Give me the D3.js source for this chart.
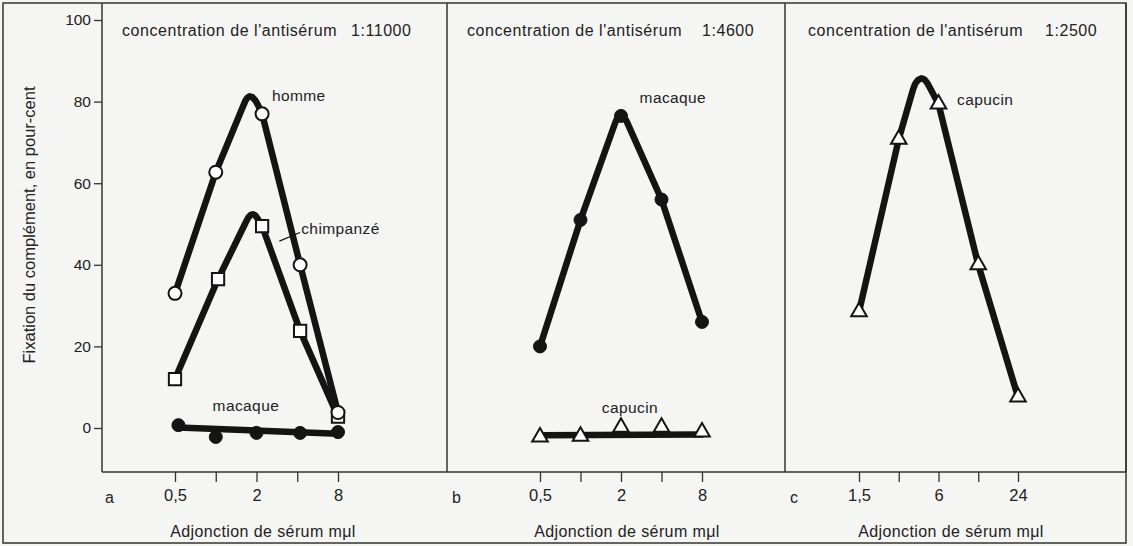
<!DOCTYPE html>
<html>
<head>
<meta charset="utf-8">
<script src="https://cdn.jsdelivr.net/npm/d3@7"></script>
<style>
  html, body { margin: 0; padding: 0; background: #f5f5f3; }
  svg { display: block; }
  text { font-family: "Liberation Sans", Arial, Helvetica, sans-serif; fill: #222; }
</style>
</head>
<body>
<svg id="chart" width="1133" height="546"></svg>
<script>
// ---------- data ----------
const yTicks = [0, 20, 40, 60, 80, 100];
const xTicksAB = [0.5, 1, 2, 4, 8];
const xTickLabelsAB = ["0,5", "", "2", "", "8"];
const xTicksC = [1.5, 3, 6, 12, 24];
const xTickLabelsC = ["1,5", "", "6", "", "24"];
const panelLetters = ["a", "b", "c"];
const concentrations = ["1:11000", "1:4600", "1:2500"];

// panel a : 1:11000
const hommeX = [0.5, 1, 2.2, 4.2, 8];
const hommeY = [33, 62.7, 77, 40, 3.8];
const hommeCurveX = [0.5, 1, 1.58, 1.66, 1.72, 1.78, 1.86, 1.95, 2.04, 2.2, 4.2, 8];
const hommeCurveY = [33, 62.7, 78.6, 80.3, 81.0, 81.3, 81.1, 80.4, 79.3, 77, 40, 3.8];

const chimpX = [0.5, 1.04, 2.2, 4.2, 8];
const chimpY = [12, 36.5, 49.5, 23.8, 2.8];
const chimpCurveX = [0.5, 1.04, 1.66, 1.74, 1.81, 1.88, 1.96, 2.05, 2.2, 4.2, 8];
const chimpCurveY = [12, 36.5, 50.3, 51.6, 52.2, 52.4, 52.1, 51.2, 49.5, 23.8, 2.8];

const macaqueAX = [0.53, 1, 2, 4.2, 8];
const macaqueAY = [0.7, -2.2, -1.2, -1.2, -1];
const macaqueACurveX = [0.53, 8];
const macaqueACurveY = [0.1, -1.4];

// panel b : 1:4600
const macaqueBX = [0.5, 1, 2, 4, 8];
const macaqueBY = [20, 51, 76.5, 56, 26];
const macaqueBCurveX = [0.5, 1, 1.82, 1.9, 1.96, 2.02, 2.1, 2.2, 4, 8];
const macaqueBCurveY = [20, 51, 75.0, 76.2, 76.7, 76.8, 76.3, 75.2, 56, 26];

const capucinBX = [0.5, 1, 2, 4, 8];
const capucinBY = [-2.2, -2.0, 0.2, 0.2, -1.0];
const capucinBCurveX = [0.5, 8];
const capucinBCurveY = [-1.8, -1.6];

// panel c : 1:2500
const capucinCX = [1.5, 3, 6, 12, 24];
const capucinCY = [28.5, 70.8, 79.4, 40, 7.6];
const capucinCCurveX = [1.5, 3, 3.85, 4.0, 4.2, 4.45, 4.7, 4.95, 5.2, 6, 12, 24];
const capucinCCurveY = [28.5, 70.8, 83.0, 84.4, 85.3, 85.7, 85.4, 84.5, 83.2, 79.4, 40, 7.6];

// ---------- layout ----------
const svg = d3.select("#chart");
const ink = "#141414";
const frameCol = "#333";
const axisY = 472;
const plotTop = 3;
const panelEdges = [102, 447, 785, 1126];

const y = d3.scaleLinear().domain([0, 100]).range([428, 20]);
const xA = d3.scaleLog().domain([0.5, 8]).range([175, 338]);
const xB = d3.scaleLog().domain([0.5, 8]).range([540, 702]);
const xC = d3.scaleLog().domain([1.5, 24]).range([859, 1018]);

// outer frame
svg.append("rect").attr("x", 3).attr("y", 3).attr("width", 1123).attr("height", 540)
  .attr("fill", "none").attr("stroke", frameCol).attr("stroke-width", 1.5);

// panel boxes
svg.append("line").attr("x1", 102).attr("x2", 1126).attr("y1", axisY).attr("y2", axisY)
  .attr("stroke", frameCol).attr("stroke-width", 1.5);
panelEdges.forEach(px => {
  svg.append("line").attr("x1", px).attr("x2", px).attr("y1", plotTop).attr("y2", axisY)
    .attr("stroke", frameCol).attr("stroke-width", 1.5);
});

// y axis
const yAxis = svg.append("g").attr("transform", "translate(102,0)")
  .call(d3.axisLeft(y).tickValues(yTicks).tickSize(8).tickPadding(3));
yAxis.select(".domain").remove();
yAxis.selectAll("line").attr("stroke", frameCol).attr("stroke-width", 1.3);
yAxis.selectAll("text").style("font-size", "15.5px").attr("fill", "#222")
  .style("font-family", "'Liberation Sans', Arial, sans-serif");

svg.append("text")
  .attr("transform", "translate(35,225) rotate(-90)")
  .attr("text-anchor", "middle")
  .style("font-size", "16.5px")
  .text("Fixation du complément, en pour-cent");

// x axes
const xScales = [xA, xB, xC];
const xTickSets = [xTicksAB, xTicksAB, xTicksC];
const xTickLabelSets = [xTickLabelsAB, xTickLabelsAB, xTickLabelsC];
xScales.forEach((xs, i) => {
  const g = svg.append("g").attr("transform", `translate(0,${axisY})`)
    .call(d3.axisBottom(xs).tickValues(xTickSets[i])
      .tickFormat((d, j) => xTickLabelSets[i][j]).tickSize(10).tickPadding(7));
  g.select(".domain").remove();
  g.selectAll("line").attr("stroke", frameCol).attr("stroke-width", 1.3);
  g.selectAll("text").style("font-size", "16.5px").attr("fill", "#222")
    .style("font-family", "'Liberation Sans', Arial, sans-serif");

  const left = panelEdges[i];
  svg.append("text").attr("x", left + [3, 5, 5][i]).attr("y", 503)
    .style("font-size", "16px").text(panelLetters[i]);

  const mid = [263, 627, 951][i];
  svg.append("text").attr("x", mid).attr("y", 537).attr("text-anchor", "middle")
    .style("font-size", "16px").style("letter-spacing", "0.4px")
    .text("Adjonction de sérum mμl");

  // title
  const t = svg.append("text").attr("x", left + [20, 20, 23][i]).attr("y", 36)
    .style("font-size", "16px").style("letter-spacing", "0.55px");
  t.append("tspan").text("concentration de l'antisérum");
  t.append("tspan").attr("dx", [14, 20, 22][i]).text(concentrations[i]);
});

// ---------- series ----------
function zip(xs, ys) { return xs.map((v, i) => [v, ys[i]]); }

function drawCurve(xs, cx, cy) {
  svg.append("path")
    .datum(zip(cx, cy))
    .attr("fill", "none").attr("stroke", ink).attr("stroke-width", 6.5)
    .attr("stroke-linecap", "round").attr("stroke-linejoin", "round")
    .attr("d", d3.line().x(d => xs(d[0])).y(d => y(d[1])).curve(d3.curveLinear));
}

function drawMarkers(xs, mx, my, type) {
  const pts = zip(mx, my);
  const g = svg.append("g");
  if (type === "openCircle" || type === "filledCircle") {
    g.selectAll("circle").data(pts).join("circle")
      .attr("cx", d => xs(d[0])).attr("cy", d => y(d[1])).attr("r", 6.5)
      .attr("fill", type === "openCircle" ? "#fff" : ink)
      .attr("stroke", ink).attr("stroke-width", type === "openCircle" ? 2 : 1);
  } else {
    const sym = type === "square" ? d3.symbolSquare : d3.symbolTriangle;
    const size = type === "square" ? 150 : 105;
    g.selectAll("path").data(pts).join("path")
      .attr("transform", d => `translate(${xs(d[0])},${y(d[1])})`)
      .attr("d", d3.symbol().type(sym).size(size))
      .attr("fill", "#fff").attr("stroke", ink).attr("stroke-width", 2);
  }
}

// panel a
drawCurve(xA, macaqueACurveX, macaqueACurveY);
drawCurve(xA, chimpCurveX, chimpCurveY);
drawCurve(xA, hommeCurveX, hommeCurveY);
drawMarkers(xA, macaqueAX, macaqueAY, "filledCircle");
drawMarkers(xA, chimpX, chimpY, "square");
drawMarkers(xA, hommeX, hommeY, "openCircle");

// panel b
drawCurve(xB, macaqueBCurveX, macaqueBCurveY);
drawMarkers(xB, macaqueBX, macaqueBY, "filledCircle");
drawCurve(xB, capucinBCurveX, capucinBCurveY);
drawMarkers(xB, capucinBX, capucinBY, "triangle");

// panel c
drawCurve(xC, capucinCCurveX, capucinCCurveY);
drawMarkers(xC, capucinCX, capucinCY, "triangle");

// ---------- series labels ----------
function label(xs, xv, yv, txt, anchor) {
  svg.append("text").attr("x", xs(xv)).attr("y", y(yv)).attr("dy", "0.35em")
    .attr("text-anchor", anchor || "start")
    .style("font-size", "15.5px").style("letter-spacing", "0.4px").text(txt);
}
label(xA, 2.6, 81.4, "homme");
label(xA, 4.28, 49, "chimpanzé");
label(xA, 1.67, 5.6, "macaque", "middle");
label(xB, 4.86, 81, "macaque", "middle");
label(xB, 2.33, 5.1, "capucin", "middle");
label(xC, 8.3, 80.4, "capucin");

// leader line for chimpanzé
svg.append("line")
  .attr("x1", xA(2.95)).attr("y1", y(45.8)).attr("x2", xA(4.2)).attr("y2", y(47.9))
  .attr("stroke", ink).attr("stroke-width", 1.2);
</script>
</body>
</html>
